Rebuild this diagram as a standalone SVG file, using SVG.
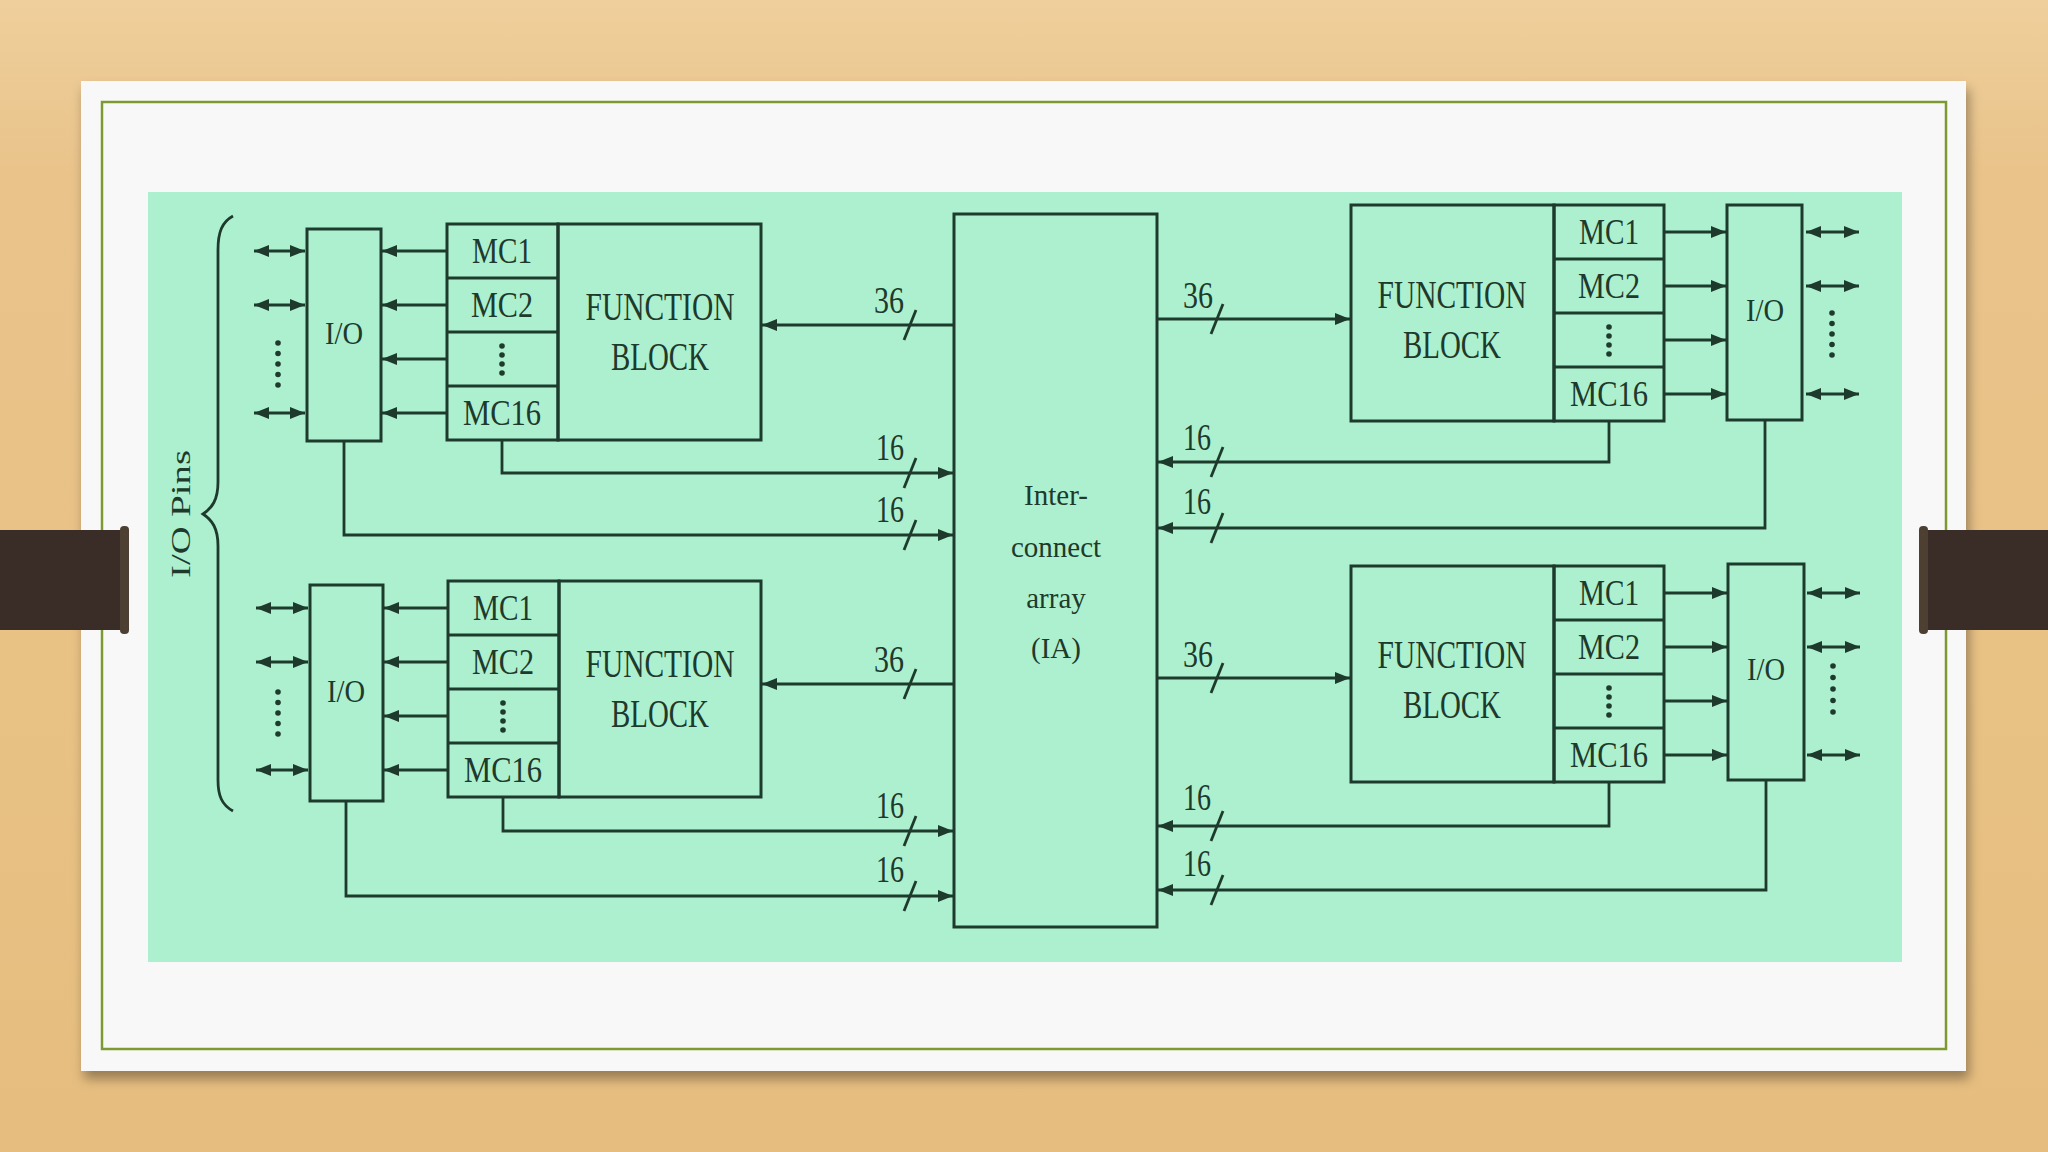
<svg xmlns="http://www.w3.org/2000/svg" width="2048" height="1152" viewBox="0 0 2048 1152">
<style>
.ln{stroke:#1d3a2c;stroke-width:2.8;fill:none}
.bx{stroke:#1d3a2c;stroke-width:3;fill:none}
.t{font-family:'Liberation Serif','Times New Roman',serif;fill:#1d3a2c;text-anchor:middle}
.mc{font-size:35px}
.fb{font-size:40px}
.io{font-size:31px}
.n{font-size:38px}
.ia{font-size:29px}
.dot{fill:#1d3a2c}
</style>
<defs>
<linearGradient id="wood" x1="0" y1="0" x2="0" y2="1">
<stop offset="0" stop-color="#efcf9c"/>
<stop offset="0.15" stop-color="#e9c38a"/>
<stop offset="0.6" stop-color="#e8c185"/>
<stop offset="1" stop-color="#e6bd7e"/>
</linearGradient>
<filter id="sh" x="-5%" y="-5%" width="110%" height="115%">
<feDropShadow dx="3" dy="8" stdDeviation="6" flood-color="#000" flood-opacity="0.35"/>
</filter>
<marker id="ah" viewBox="0 0 15 12" refX="15" refY="6" markerWidth="15" markerHeight="12" markerUnits="userSpaceOnUse" orient="auto-start-reverse">
<path d="M0,0 L15,6 L0,12 z" fill="#1d3a2c"/>
</marker>
</defs>

<!-- background -->
<rect x="0" y="0" width="2048" height="1152" fill="url(#wood)"/>
<rect x="81" y="81" width="1885" height="990" fill="#f8f8f9" filter="url(#sh)"/>
<rect x="102" y="102" width="1844" height="947" fill="none" stroke="#7d9a30" stroke-width="2.5"/>
<rect x="148" y="192" width="1754" height="770" fill="#adf0cf"/>
<!-- side bars -->
<rect x="0" y="530" width="126" height="100" fill="#3a2d27"/>
<rect x="120" y="526" width="9" height="108" rx="4" fill="#4e3f33"/>
<rect x="1922" y="530" width="126" height="100" fill="#3a2d27"/>
<rect x="1919" y="526" width="9" height="108" rx="4" fill="#4e3f33"/>

<!-- I/O Pins brace -->
<g id="io-pins">
<path class="ln" d="M233 216 C222 222 218 232 218 250 L218 482 C218 500 212 508 203 514 C212 520 218 528 218 546 L218 780 C218 796 222 805 233 811"/>
<text class="t" font-size="27" textLength="128" lengthAdjust="spacingAndGlyphs" transform="translate(190 514) rotate(-90)" x="0" y="0">I/O Pins</text>
</g>

<!-- Interconnect array -->
<g id="ia">
<rect class="bx" x="954" y="214" width="203" height="713"/>
<text class="t ia" x="1056" y="505">Inter-</text>
<text class="t ia" x="1056" y="557">connect</text>
<text class="t ia" x="1056" y="608">array</text>
<text class="t ia" x="1056" y="658">(IA)</text>
</g>

<!-- Top-left -->
<g id="io-tl">
<rect class="bx" x="307" y="229" width="74" height="212"/>
<text class="t io" x="344" y="344" textLength="38" lengthAdjust="spacingAndGlyphs">I/O</text>
<circle class="dot" cx="278" cy="343" r="2.8"/><circle class="dot" cx="278" cy="353.5" r="2.8"/><circle class="dot" cx="278" cy="364" r="2.8"/><circle class="dot" cx="278" cy="374.5" r="2.8"/><circle class="dot" cx="278" cy="385" r="2.8"/>
</g>
<g id="mc-tl">
<rect class="bx" x="447" y="224" width="111" height="216"/>
<line class="bx" x1="447" y1="278" x2="558" y2="278"/>
<line class="bx" x1="447" y1="332" x2="558" y2="332"/>
<line class="bx" x1="447" y1="386" x2="558" y2="386"/>
<text class="t mc" x="502" y="263" textLength="60" lengthAdjust="spacingAndGlyphs">MC1</text>
<text class="t mc" x="502" y="317" textLength="62" lengthAdjust="spacingAndGlyphs">MC2</text>
<circle class="dot" cx="502" cy="346" r="2.8"/><circle class="dot" cx="502" cy="355" r="2.8"/><circle class="dot" cx="502" cy="364" r="2.8"/><circle class="dot" cx="502" cy="373" r="2.8"/>
<text class="t mc" x="502" y="425" textLength="78" lengthAdjust="spacingAndGlyphs">MC16</text>
</g>
<g id="fb-tl">
<rect class="bx" x="558" y="224" width="203" height="216"/>
<text class="t fb" x="660" y="320" textLength="149" lengthAdjust="spacingAndGlyphs">FUNCTION</text>
<text class="t fb" x="660" y="370" textLength="98" lengthAdjust="spacingAndGlyphs">BLOCK</text>
</g>

<!-- Top-right -->
<g id="fb-tr">
<rect class="bx" x="1351" y="205" width="203" height="216"/>
<text class="t fb" x="1452" y="308" textLength="149" lengthAdjust="spacingAndGlyphs">FUNCTION</text>
<text class="t fb" x="1452" y="358" textLength="98" lengthAdjust="spacingAndGlyphs">BLOCK</text>
</g>
<g id="mc-tr">
<rect class="bx" x="1554" y="205" width="110" height="216"/>
<line class="bx" x1="1554" y1="259" x2="1664" y2="259"/>
<line class="bx" x1="1554" y1="313" x2="1664" y2="313"/>
<line class="bx" x1="1554" y1="367" x2="1664" y2="367"/>
<text class="t mc" x="1609" y="244" textLength="60" lengthAdjust="spacingAndGlyphs">MC1</text>
<text class="t mc" x="1609" y="298" textLength="62" lengthAdjust="spacingAndGlyphs">MC2</text>
<circle class="dot" cx="1609" cy="327" r="2.8"/><circle class="dot" cx="1609" cy="336" r="2.8"/><circle class="dot" cx="1609" cy="345" r="2.8"/><circle class="dot" cx="1609" cy="354" r="2.8"/>
<text class="t mc" x="1609" y="406" textLength="78" lengthAdjust="spacingAndGlyphs">MC16</text>
</g>
<g id="io-tr">
<rect class="bx" x="1727" y="205" width="75" height="215"/>
<text class="t io" x="1765" y="321" textLength="38" lengthAdjust="spacingAndGlyphs">I/O</text>
<circle class="dot" cx="1832" cy="313" r="2.8"/><circle class="dot" cx="1832" cy="323.5" r="2.8"/><circle class="dot" cx="1832" cy="334" r="2.8"/><circle class="dot" cx="1832" cy="344.5" r="2.8"/><circle class="dot" cx="1832" cy="355" r="2.8"/>
</g>

<!-- Bottom-left -->
<g id="io-bl">
<rect class="bx" x="310" y="585" width="73" height="216"/>
<text class="t io" x="346" y="702" textLength="38" lengthAdjust="spacingAndGlyphs">I/O</text>
<circle class="dot" cx="278" cy="692" r="2.8"/><circle class="dot" cx="278" cy="702.5" r="2.8"/><circle class="dot" cx="278" cy="713" r="2.8"/><circle class="dot" cx="278" cy="723.5" r="2.8"/><circle class="dot" cx="278" cy="734" r="2.8"/>
</g>
<g id="mc-bl">
<rect class="bx" x="448" y="581" width="111" height="216"/>
<line class="bx" x1="448" y1="635" x2="559" y2="635"/>
<line class="bx" x1="448" y1="689" x2="559" y2="689"/>
<line class="bx" x1="448" y1="743" x2="559" y2="743"/>
<text class="t mc" x="503" y="620" textLength="60" lengthAdjust="spacingAndGlyphs">MC1</text>
<text class="t mc" x="503" y="674" textLength="62" lengthAdjust="spacingAndGlyphs">MC2</text>
<circle class="dot" cx="503" cy="703" r="2.8"/><circle class="dot" cx="503" cy="712" r="2.8"/><circle class="dot" cx="503" cy="721" r="2.8"/><circle class="dot" cx="503" cy="730" r="2.8"/>
<text class="t mc" x="503" y="782" textLength="78" lengthAdjust="spacingAndGlyphs">MC16</text>
</g>
<g id="fb-bl">
<rect class="bx" x="559" y="581" width="202" height="216"/>
<text class="t fb" x="660" y="677" textLength="149" lengthAdjust="spacingAndGlyphs">FUNCTION</text>
<text class="t fb" x="660" y="727" textLength="98" lengthAdjust="spacingAndGlyphs">BLOCK</text>
</g>

<!-- Bottom-right -->
<g id="fb-br">
<rect class="bx" x="1351" y="566" width="203" height="216"/>
<text class="t fb" x="1452" y="668" textLength="149" lengthAdjust="spacingAndGlyphs">FUNCTION</text>
<text class="t fb" x="1452" y="718" textLength="98" lengthAdjust="spacingAndGlyphs">BLOCK</text>
</g>
<g id="mc-br">
<rect class="bx" x="1554" y="566" width="110" height="216"/>
<line class="bx" x1="1554" y1="620" x2="1664" y2="620"/>
<line class="bx" x1="1554" y1="674" x2="1664" y2="674"/>
<line class="bx" x1="1554" y1="728" x2="1664" y2="728"/>
<text class="t mc" x="1609" y="605" textLength="60" lengthAdjust="spacingAndGlyphs">MC1</text>
<text class="t mc" x="1609" y="659" textLength="62" lengthAdjust="spacingAndGlyphs">MC2</text>
<circle class="dot" cx="1609" cy="688" r="2.8"/><circle class="dot" cx="1609" cy="697" r="2.8"/><circle class="dot" cx="1609" cy="706" r="2.8"/><circle class="dot" cx="1609" cy="715" r="2.8"/>
<text class="t mc" x="1609" y="767" textLength="78" lengthAdjust="spacingAndGlyphs">MC16</text>
</g>
<g id="io-br">
<rect class="bx" x="1728" y="564" width="76" height="216"/>
<text class="t io" x="1766" y="680" textLength="38" lengthAdjust="spacingAndGlyphs">I/O</text>
<circle class="dot" cx="1833" cy="666" r="2.8"/><circle class="dot" cx="1833" cy="677.5" r="2.8"/><circle class="dot" cx="1833" cy="689" r="2.8"/><circle class="dot" cx="1833" cy="700.5" r="2.8"/><circle class="dot" cx="1833" cy="712" r="2.8"/>
</g>

<!-- Connectors -->
<g id="connectors">
<!-- TL -->
<line class="ln" x1="447" y1="251" x2="382" y2="251" marker-end="url(#ah)"/>
<line class="ln" x1="447" y1="305" x2="382" y2="305" marker-end="url(#ah)"/>
<line class="ln" x1="447" y1="359" x2="382" y2="359" marker-end="url(#ah)"/>
<line class="ln" x1="447" y1="413" x2="382" y2="413" marker-end="url(#ah)"/>
<line class="ln" x1="254" y1="251" x2="305" y2="251" marker-start="url(#ah)" marker-end="url(#ah)"/>
<line class="ln" x1="254" y1="305" x2="305" y2="305" marker-start="url(#ah)" marker-end="url(#ah)"/>
<line class="ln" x1="254" y1="413" x2="305" y2="413" marker-start="url(#ah)" marker-end="url(#ah)"/>
<line class="ln" x1="954" y1="325" x2="762" y2="325" marker-end="url(#ah)"/>
<polyline class="ln" points="502,440 502,473 953,473" marker-end="url(#ah)"/>
<polyline class="ln" points="344,441 344,535 953,535" marker-end="url(#ah)"/>
<!-- TR -->
<line class="ln" x1="1664" y1="232" x2="1726" y2="232" marker-end="url(#ah)"/>
<line class="ln" x1="1664" y1="286" x2="1726" y2="286" marker-end="url(#ah)"/>
<line class="ln" x1="1664" y1="340" x2="1726" y2="340" marker-end="url(#ah)"/>
<line class="ln" x1="1664" y1="394" x2="1726" y2="394" marker-end="url(#ah)"/>
<line class="ln" x1="1806" y1="232" x2="1859" y2="232" marker-start="url(#ah)" marker-end="url(#ah)"/>
<line class="ln" x1="1806" y1="286" x2="1859" y2="286" marker-start="url(#ah)" marker-end="url(#ah)"/>
<line class="ln" x1="1806" y1="394" x2="1859" y2="394" marker-start="url(#ah)" marker-end="url(#ah)"/>
<line class="ln" x1="1157" y1="319" x2="1350" y2="319" marker-end="url(#ah)"/>
<polyline class="ln" points="1609,421 1609,462 1158,462" marker-end="url(#ah)"/>
<polyline class="ln" points="1765,420 1765,528 1158,528" marker-end="url(#ah)"/>
<!-- BL -->
<line class="ln" x1="448" y1="608" x2="384" y2="608" marker-end="url(#ah)"/>
<line class="ln" x1="448" y1="662" x2="384" y2="662" marker-end="url(#ah)"/>
<line class="ln" x1="448" y1="716" x2="384" y2="716" marker-end="url(#ah)"/>
<line class="ln" x1="448" y1="770" x2="384" y2="770" marker-end="url(#ah)"/>
<line class="ln" x1="256" y1="608" x2="308" y2="608" marker-start="url(#ah)" marker-end="url(#ah)"/>
<line class="ln" x1="256" y1="662" x2="308" y2="662" marker-start="url(#ah)" marker-end="url(#ah)"/>
<line class="ln" x1="256" y1="770" x2="308" y2="770" marker-start="url(#ah)" marker-end="url(#ah)"/>
<line class="ln" x1="954" y1="684" x2="762" y2="684" marker-end="url(#ah)"/>
<polyline class="ln" points="503,797 503,831 953,831" marker-end="url(#ah)"/>
<polyline class="ln" points="346,801 346,896 953,896" marker-end="url(#ah)"/>
<!-- BR -->
<line class="ln" x1="1664" y1="593" x2="1727" y2="593" marker-end="url(#ah)"/>
<line class="ln" x1="1664" y1="647" x2="1727" y2="647" marker-end="url(#ah)"/>
<line class="ln" x1="1664" y1="701" x2="1727" y2="701" marker-end="url(#ah)"/>
<line class="ln" x1="1664" y1="755" x2="1727" y2="755" marker-end="url(#ah)"/>
<line class="ln" x1="1807" y1="593" x2="1860" y2="593" marker-start="url(#ah)" marker-end="url(#ah)"/>
<line class="ln" x1="1807" y1="647" x2="1860" y2="647" marker-start="url(#ah)" marker-end="url(#ah)"/>
<line class="ln" x1="1807" y1="755" x2="1860" y2="755" marker-start="url(#ah)" marker-end="url(#ah)"/>
<line class="ln" x1="1157" y1="678" x2="1350" y2="678" marker-end="url(#ah)"/>
<polyline class="ln" points="1609,782 1609,826 1158,826" marker-end="url(#ah)"/>
<polyline class="ln" points="1766,780 1766,890 1158,890" marker-end="url(#ah)"/>
<!-- bus width slashes -->
<g class="ln">
<line x1="904" y1="340" x2="916" y2="310"/>
<line x1="904" y1="488" x2="916" y2="458"/>
<line x1="904" y1="550" x2="916" y2="520"/>
<line x1="904" y1="699" x2="916" y2="669"/>
<line x1="904" y1="846" x2="916" y2="816"/>
<line x1="904" y1="911" x2="916" y2="881"/>
<line x1="1211" y1="334" x2="1223" y2="304"/>
<line x1="1211" y1="477" x2="1223" y2="447"/>
<line x1="1211" y1="543" x2="1223" y2="513"/>
<line x1="1211" y1="693" x2="1223" y2="663"/>
<line x1="1211" y1="841" x2="1223" y2="811"/>
<line x1="1211" y1="905" x2="1223" y2="875"/>
</g>
<!-- bus width labels -->
<g class="t n" style="text-anchor:end">
<text x="904" y="313" textLength="30" lengthAdjust="spacingAndGlyphs">36</text>
<text x="904" y="460" textLength="28" lengthAdjust="spacingAndGlyphs">16</text>
<text x="904" y="522" textLength="28" lengthAdjust="spacingAndGlyphs">16</text>
<text x="904" y="672" textLength="30" lengthAdjust="spacingAndGlyphs">36</text>
<text x="904" y="818" textLength="28" lengthAdjust="spacingAndGlyphs">16</text>
<text x="904" y="882" textLength="28" lengthAdjust="spacingAndGlyphs">16</text>
</g>
<g class="t n" style="text-anchor:start">
<text x="1183" y="308" textLength="30" lengthAdjust="spacingAndGlyphs">36</text>
<text x="1183" y="450" textLength="28" lengthAdjust="spacingAndGlyphs">16</text>
<text x="1183" y="514" textLength="28" lengthAdjust="spacingAndGlyphs">16</text>
<text x="1183" y="667" textLength="30" lengthAdjust="spacingAndGlyphs">36</text>
<text x="1183" y="810" textLength="28" lengthAdjust="spacingAndGlyphs">16</text>
<text x="1183" y="876" textLength="28" lengthAdjust="spacingAndGlyphs">16</text>
</g>
</g>
</svg>
